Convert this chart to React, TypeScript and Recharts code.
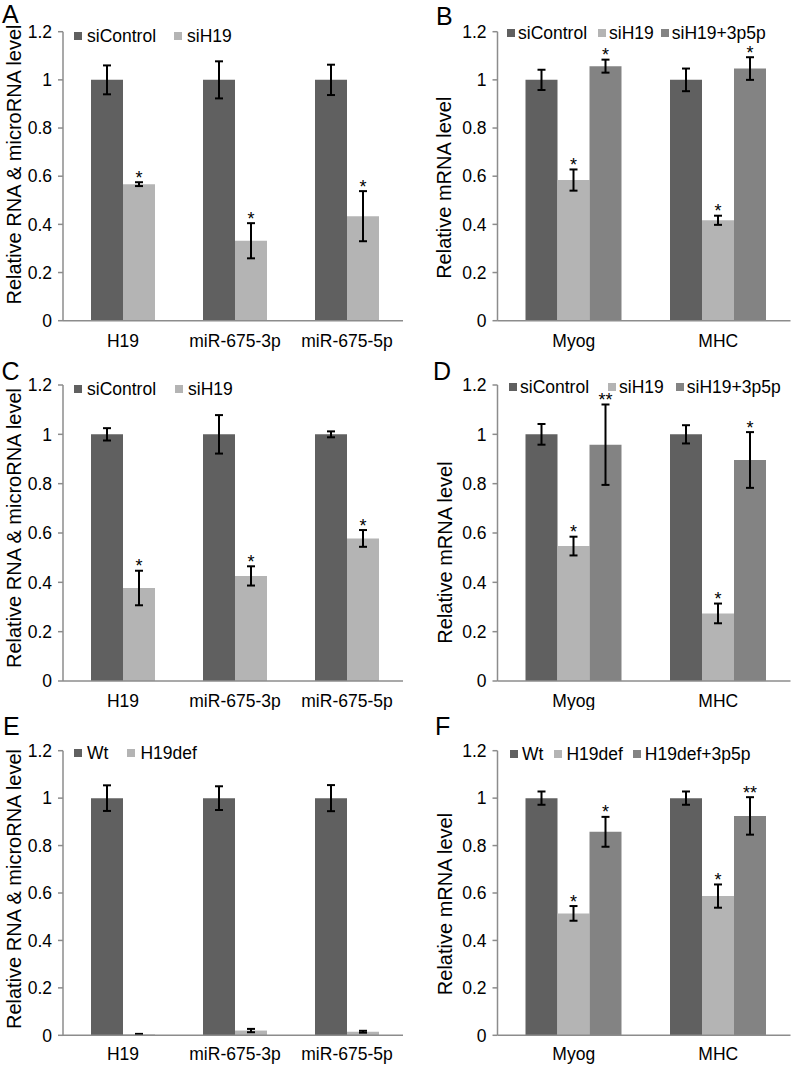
import React from 'react';
import { BarChart, Bar, XAxis, YAxis, ErrorBar, Legend, LabelList } from 'recharts';

const FONT = '"Liberation Sans", Arial, Helvetica, sans-serif';
const C_CTRL = '#606060';
const C_SI = '#b4b4b4';
const C_RES = '#838383';
const AXIS = '#8c8c8c';

const yTicks = [0, 0.2, 0.4, 0.6, 0.8, 1, 1.2];

// Panel A
const catsA = ['H19', 'miR-675-3p', 'miR-675-5p'];
const aCtrl = [1, 1, 1];
const aCtrlErr = [0.06, 0.077, 0.063];
const aSi = [0.567, 0.332, 0.434];
const aSiErr = [0.008, 0.073, 0.104];
const aSiStars = ['*', '*', '*'];

// Panel B
const catsB = ['Myog', 'MHC'];
const bCtrl = [1, 1];
const bCtrlErr = [0.042, 0.047];
const bSi = [0.584, 0.417];
const bSiErr = [0.044, 0.019];
const bSiStars = ['*', '*'];
const bRes = [1.057, 1.047];
const bResErr = [0.027, 0.047];
const bResStars = ['*', '*'];

// Panel C
const catsC = ['H19', 'miR-675-3p', 'miR-675-5p'];
const cCtrl = [1, 1, 1];
const cCtrlErr = [0.025, 0.078, 0.012];
const cSi = [0.377, 0.426, 0.578];
const cSiErr = [0.07, 0.039, 0.034];
const cSiStars = ['*', '*', '*'];

// Panel D
const catsD = ['Myog', 'MHC'];
const dCtrl = [1, 1];
const dCtrlErr = [0.042, 0.037];
const dSi = [0.547, 0.274];
const dSiErr = [0.038, 0.04];
const dSiStars = ['*', '*'];
const dRes = [0.958, 0.896];
const dResErr = [0.163, 0.113];
const dResStars = ['**', '*'];

// Panel E
const catsE = ['H19', 'miR-675-3p', 'miR-675-5p'];
const eWt = [1, 1, 1];
const eWtErr = [0.054, 0.05, 0.055];
const eDef = [0.004, 0.02, 0.015];
const eDefErr = [0.002, 0.007, 0.004];

// Panel F
const catsF = ['Myog', 'MHC'];
const fWt = [1, 1];
const fWtErr = [0.028, 0.028];
const fDef = [0.514, 0.587];
const fDefErr = [0.031, 0.049];
const fDefStars = ['*', '*'];
const fRes = [0.858, 0.925];
const fResErr = [0.063, 0.079];
const fResStars = ['*', '**'];

type Series = { name: string; color: string; values: number[]; errors: number[]; stars?: string[] };

function buildRows(cats: string[], series: Series[]) {
  return cats.map((c, i) => {
    const row: any = { cat: c };
    series.forEach((s, k) => {
      row['v' + k] = s.values[i];
      row['e' + k] = s.errors[i];
      row['s' + k] = s.stars ? s.stars[i] : '';
    });
    return row;
  });
}

const makeStar = (vals: number[], errs: number[]) => (p: any) => {
  const { x, y, width, height, value, index } = p;
  if (!value) return null;
  const v = vals[index];
  const per = Number(height) / v;
  const errTop = Number(y) - errs[index] * per;
  return (
    <text x={Number(x) + Number(width) / 2} y={errTop + 1.5} textAnchor="middle" fontSize={18} fill="#000" fontFamily={FONT}>
      {value}
    </text>
  );
};

const LegendBox = ({ payload, gaps, sqGap }: any) => (
  <div style={{ display: 'flex', alignItems: 'center', fontSize: 17.5, lineHeight: '16px', color: '#000', whiteSpace: 'nowrap', fontFamily: FONT }}>
    {(payload || []).map((p: any, i: number) => (
      <div key={i} style={{ display: 'flex', alignItems: 'center', marginRight: gaps[i] || 0 }}>
        <span style={{ width: 8, height: 8, background: p.color, marginRight: sqGap, display: 'inline-block' }} />
        <span>{p.value}</span>
      </div>
    ))}
  </div>
);

type PanelProps = {
  left: number; top: number; width: number; height: number;
  margin: { top: number; right: number; bottom: number; left: number };
  yWidth: number; xHeight: number; tickMargin: number;
  cats: string[]; series: Series[];
  legendLeft: number; legendTop: number; legendGaps: number[]; sqGap: number;
};

function Panel(props: PanelProps) {
  const data = buildRows(props.cats, props.series);
  return (
    <div style={{ position: 'absolute', left: props.left, top: props.top }}>
      <BarChart width={props.width} height={props.height} data={data} margin={props.margin} barGap={0} barCategoryGap={0}>
        <XAxis
          dataKey="cat"
          padding={{ left: 4, right: 0 }}
          axisLine={{ stroke: AXIS, strokeWidth: 1.5 }}
          tickLine={false}
          tickSize={0}
          tickMargin={props.tickMargin}
          height={props.xHeight}
          interval={0}
          tick={{ fill: '#000', fontSize: 17.5, fontFamily: FONT }}
        />
        <YAxis
          domain={[0, 1.2]}
          ticks={yTicks}
          interval={0}
          width={props.yWidth}
          axisLine={{ stroke: AXIS, strokeWidth: 1.5 }}
          tickLine={{ stroke: AXIS, strokeWidth: 1.5 }}
          tickSize={5}
          tickMargin={6}
          tick={{ fill: '#000', fontSize: 17.5, fontFamily: FONT }}
        />
        <Legend
          layout="horizontal"
          verticalAlign="middle"
          align="center"
          itemSorter="dataKey"
          wrapperStyle={{ left: props.legendLeft, top: props.legendTop, width: 'auto' }}
          content={(lp: any) => <LegendBox {...lp} gaps={props.legendGaps} sqGap={props.sqGap} />}
        />
        {props.series.map((s, k) => (
          <Bar key={k} dataKey={'v' + k} name={s.name} fill={s.color} barSize={32} isAnimationActive={false}>
            <ErrorBar dataKey={'e' + k} width={4} strokeWidth={2} stroke="#000" direction="y" />
            {s.stars ? <LabelList dataKey={'s' + k} content={makeStar(s.values, s.errors)} /> : null}
          </Bar>
        ))}
      </BarChart>
    </div>
  );
}

const leftCol = { left: 0, width: 410, yWidth: 63, right: 7 };
const rightCol = { left: 400, width: 392, yWidth: 97.5, right: 1.5 };

export default function App() {
  return (
    <div style={{ position: 'absolute', left: 0, top: 0, width: 792, height: 1067, background: '#fff', fontFamily: FONT, overflow: 'hidden' }}>
      <Panel
        left={leftCol.left} top={0} width={leftCol.width} height={360}
        margin={{ top: 31.7, right: leftCol.right, bottom: 9.3, left: 0 }}
        yWidth={leftCol.yWidth} xHeight={30} tickMargin={14}
        cats={catsA}
        series={[
          { name: 'siControl', color: C_CTRL, values: aCtrl, errors: aCtrlErr },
          { name: 'siH19', color: C_SI, values: aSi, errors: aSiErr, stars: aSiStars },
        ]}
        legendLeft={74} legendTop={28} legendGaps={[18, 0]} sqGap={5}
      />
      <Panel
        left={rightCol.left} top={0} width={rightCol.width} height={360}
        margin={{ top: 31.7, right: rightCol.right, bottom: 9.3, left: 0 }}
        yWidth={rightCol.yWidth} xHeight={30} tickMargin={14}
        cats={catsB}
        series={[
          { name: 'siControl', color: C_CTRL, values: bCtrl, errors: bCtrlErr },
          { name: 'siH19', color: C_SI, values: bSi, errors: bSiErr, stars: bSiStars },
          { name: 'siH19+3p5p', color: C_RES, values: bRes, errors: bResErr, stars: bResStars },
        ]}
        legendLeft={107} legendTop={25} legendGaps={[11, 7, 0]} sqGap={3}
      />
      <Panel
        left={leftCol.left} top={350} width={leftCol.width} height={360}
        margin={{ top: 35, right: leftCol.right, bottom: 9, left: 0 }}
        yWidth={leftCol.yWidth} xHeight={20} tickMargin={14}
        cats={catsC}
        series={[
          { name: 'siControl', color: C_CTRL, values: cCtrl, errors: cCtrlErr },
          { name: 'siH19', color: C_SI, values: cSi, errors: cSiErr, stars: cSiStars },
        ]}
        legendLeft={74} legendTop={31} legendGaps={[19, 0]} sqGap={5}
      />
      <Panel
        left={rightCol.left} top={350} width={rightCol.width} height={360}
        margin={{ top: 35, right: rightCol.right, bottom: 9, left: 0 }}
        yWidth={rightCol.yWidth} xHeight={20} tickMargin={14}
        cats={catsD}
        series={[
          { name: 'siControl', color: C_CTRL, values: dCtrl, errors: dCtrlErr },
          { name: 'siH19', color: C_SI, values: dSi, errors: dSiErr, stars: dSiStars },
          { name: 'siH19+3p5p', color: C_RES, values: dRes, errors: dResErr, stars: dResStars },
        ]}
        legendLeft={109} legendTop={29} legendGaps={[19, 12, 0]} sqGap={3}
      />
      <Panel
        left={leftCol.left} top={710} width={leftCol.width} height={357}
        margin={{ top: 40.7, right: leftCol.right, bottom: 6.7, left: 0 }}
        yWidth={leftCol.yWidth} xHeight={25} tickMargin={12}
        cats={catsE}
        series={[
          { name: 'Wt', color: C_CTRL, values: eWt, errors: eWtErr },
          { name: 'H19def', color: C_SI, values: eDef, errors: eDefErr },
        ]}
        legendLeft={74} legendTop={35} legendGaps={[19, 0]} sqGap={5}
      />
      <Panel
        left={rightCol.left} top={710} width={rightCol.width} height={357}
        margin={{ top: 40.7, right: rightCol.right, bottom: 6.7, left: 0 }}
        yWidth={rightCol.yWidth} xHeight={25} tickMargin={12}
        cats={catsF}
        series={[
          { name: 'Wt', color: C_CTRL, values: fWt, errors: fWtErr },
          { name: 'H19def', color: C_SI, values: fDef, errors: fDefErr, stars: fDefStars },
          { name: 'H19def+3p5p', color: C_RES, values: fRes, errors: fResErr, stars: fResStars },
        ]}
        legendLeft={110} legendTop={36} legendGaps={[11, 10, 0]} sqGap={4}
      />
      <svg width={792} height={1067} style={{ position: 'absolute', left: 0, top: 0, pointerEvents: 'none' }} fontFamily={FONT}>
        <text x={2} y={23} fontSize={25} fill="#000">A</text>
        <text x={436} y={25} fontSize={25} fill="#000">B</text>
        <text x={1.5} y={380} fontSize={25} fill="#000">C</text>
        <text x={433} y={380} fontSize={25} fill="#000">D</text>
        <text x={3} y={735} fontSize={25} fill="#000">E</text>
        <text x={435} y={735} fontSize={25} fill="#000">F</text>
        <text x={21} y={164.5} fontSize={20} fill="#000" textAnchor="middle" transform="rotate(-90 21 164.5)">Relative RNA &amp; microRNA level</text>
        <text x={451.5} y={187.7} fontSize={20} fill="#000" textAnchor="middle" transform="rotate(-90 451.5 187.7)">Relative mRNA level</text>
        <text x={21} y={528} fontSize={20} fill="#000" textAnchor="middle" transform="rotate(-90 21 528)">Relative RNA &amp; microRNA level</text>
        <text x={451.5} y={552.5} fontSize={20} fill="#000" textAnchor="middle" transform="rotate(-90 451.5 552.5)">Relative mRNA level</text>
        <text x={21} y={889} fontSize={20} fill="#000" textAnchor="middle" transform="rotate(-90 21 889)">Relative RNA &amp; microRNA level</text>
        <text x={451.5} y={904} fontSize={20} fill="#000" textAnchor="middle" transform="rotate(-90 451.5 904)">Relative mRNA level</text>
      </svg>
    </div>
  );
}
